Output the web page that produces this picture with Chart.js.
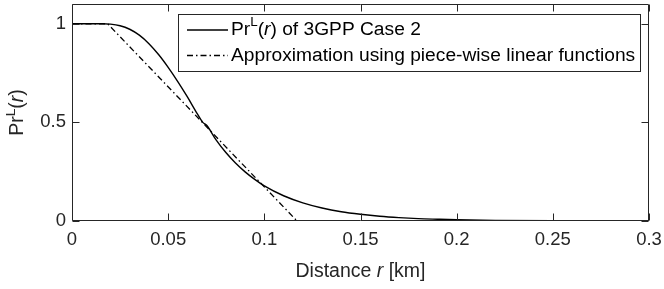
<!DOCTYPE html>
<html>
<head>
<meta charset="utf-8">
<script src="https://cdn.jsdelivr.net/npm/chart.js@4/dist/chart.umd.min.js"></script>
<style>
  html, body { margin: 0; padding: 0; background: #fff; }
  #wrap { width: 664px; height: 289px; position: relative; }
</style>
</head>
<body>
<div id="wrap"><canvas id="c" width="664" height="289"></canvas></div>
<script>
// ---- data ----
const distR = [0, 0.01, 0.015, 0.02, 0.025, 0.03, 0.035, 0.04, 0.045, 0.05, 0.055, 0.06, 0.065, 0.068,
               0.07, 0.075, 0.08, 0.085, 0.09, 0.095, 0.1, 0.11, 0.12, 0.13, 0.14, 0.15, 0.16, 0.17,
               0.18, 0.19, 0.2, 0.22, 0.25, 0.28, 0.3];
const prLos = [1, 1, 0.9998, 0.998, 0.990, 0.972, 0.942, 0.899, 0.844, 0.779, 0.707, 0.629, 0.546, 0.5,
               0.485, 0.410, 0.347, 0.294, 0.249, 0.211, 0.178, 0.128, 0.092, 0.066, 0.047, 0.034, 0.024, 0.017,
               0.012, 0.009, 0.0064, 0.0033, 0.0012, 0.0004, 0.0002];
const approxR = [0, 0.0185, 0.117, 0.3];
const approxPr = [1, 1, 0, 0];
const xTicks = [0, 0.05, 0.1, 0.15, 0.2, 0.25, 0.3];
const xTickLabels = ['0', '0.05', '0.1', '0.15', '0.2', '0.25', '0.3'];
const yTicks = [0, 0.5, 1];
const yTickLabels = ['0', '0.5', '1'];
const seriesNames = ['Pr^L(r) of 3GPP Case 2', 'Approximation using piece-wise linear functions'];

const FONT = '"Liberation Sans", Arial, Helvetica, sans-serif';
const AX = '#262626';
const TICKLEN = 7;

function drawRich(ctx, x, y, segs, size, align) {
  const widths = segs.map(s => {
    const fs = s.sup ? size * 0.7 : size;
    ctx.font = (s.it ? 'italic ' : '') + fs + 'px ' + FONT;
    return ctx.measureText(s.t).width;
  });
  const total = widths.reduce((a, b) => a + b, 0);
  let cx = align === 'center' ? x - total / 2 : x;
  segs.forEach((s, i) => {
    const fs = s.sup ? size * 0.7 : size;
    ctx.font = (s.it ? 'italic ' : '') + fs + 'px ' + FONT;
    ctx.fillText(s.t, cx, s.sup ? y - size * 0.42 : y);
    cx += widths[i];
  });
}

const decor = {
  id: 'decor',
  afterDatasetsDraw(chart) {
    const ctx = chart.ctx;
    const a = chart.chartArea;
    const xs = chart.scales.x, ys = chart.scales.y;
    ctx.save();
    ctx.strokeStyle = AX;
    ctx.lineWidth = 1;
    const L = Math.round(a.left) + 0.5, R = Math.round(a.right) - 0.5;
    const T = Math.round(a.top) + 0.5, B = Math.round(a.bottom) - 0.5;
    ctx.beginPath();
    ctx.rect(L, T, R - L, B - T);
    xTicks.forEach(v => {
      const px = Math.round(xs.getPixelForValue(v)) + 0.5;
      ctx.moveTo(px, B); ctx.lineTo(px, B - TICKLEN);
      ctx.moveTo(px, T); ctx.lineTo(px, T + TICKLEN);
    });
    yTicks.forEach(v => {
      const py = Math.round(ys.getPixelForValue(v)) + 0.5;
      ctx.moveTo(L, py); ctx.lineTo(L + TICKLEN, py);
      ctx.moveTo(R, py); ctx.lineTo(R - TICKLEN, py);
    });
    ctx.stroke();

    // legend
    const lx = 178.5, ly = 14.5, lw = 462, lh = 57;
    ctx.fillStyle = '#fff';
    ctx.fillRect(lx, ly, lw, lh);
    ctx.strokeStyle = AX;
    ctx.strokeRect(lx, ly, lw, lh);
    const rows = [30, 55.5];
    chart.data.datasets.forEach((ds, i) => {
      ctx.save();
      ctx.strokeStyle = ds.borderColor;
      ctx.lineWidth = ds.borderWidth;
      ctx.setLineDash(ds.borderDash || []);
      ctx.beginPath();
      ctx.moveTo(187, rows[i]); ctx.lineTo(228, rows[i]);
      ctx.stroke();
      ctx.restore();
    });
    ctx.fillStyle = '#000';
    ctx.textBaseline = 'middle';
    ctx.textAlign = 'left';
    drawRich(ctx, 231, rows[0], [{t: 'Pr'}, {t: 'L', sup: true}, {t: '('}, {t: 'r', it: true}, {t: ') of 3GPP Case 2'}], 19.2);
    drawRich(ctx, 231, rows[1], [{t: seriesNames[1]}], 19.2);

    // axis titles
    ctx.fillStyle = AX;
    ctx.textBaseline = 'alphabetic';
    drawRich(ctx, (a.left + a.right) / 2, 277, [{t: 'Distance '}, {t: 'r', it: true}, {t: ' [km]'}], 19.5, 'center');
    ctx.save();
    ctx.translate(23, (a.top + a.bottom) / 2);
    ctx.rotate(-Math.PI / 2);
    drawRich(ctx, 0, 0, [{t: 'Pr'}, {t: 'L', sup: true}, {t: '('}, {t: 'r', it: true}, {t: ')'}], 19.5, 'center');
    ctx.restore();
    ctx.restore();
  }
};

function zeroPad(s) { s.paddingTop = 0; s.paddingBottom = 0; s.paddingLeft = 0; s.paddingRight = 0; }

new Chart(document.getElementById('c'), {
  type: 'line',
  data: {
    datasets: [
      {
        label: seriesNames[0],
        data: distR.map((r, i) => ({x: r, y: prLos[i]})),
        borderColor: '#000',
        borderWidth: 1.4,
        pointRadius: 0,
        cubicInterpolationMode: 'monotone',
        fill: false
      },
      {
        label: seriesNames[1],
        data: approxR.map((r, i) => ({x: r, y: approxPr[i]})),
        borderColor: '#000',
        borderWidth: 1.3,
        borderDash: [6, 3, 1.5, 3],
        pointRadius: 0,
        tension: 0,
        fill: false
      }
    ]
  },
  options: {
    responsive: false,
    animation: false,
    events: [],
    layout: { padding: { left: 0, right: 15, top: 4, bottom: 0 } },
    plugins: { legend: { display: false }, tooltip: { enabled: false } },
    scales: {
      x: {
        type: 'linear',
        min: 0, max: 0.3,
        afterBuildTicks: s => { s.ticks = xTicks.map(v => ({value: v})); },
        afterFit: s => { s.height = 68; zeroPad(s); },
        grid: { display: false, drawTicks: false },
        border: { display: false },
        ticks: {
          padding: 8,
          color: AX,
          font: { family: FONT, size: 18.5 },
          maxRotation: 0,
          autoSkip: false,
          callback: (v, i) => xTickLabels[i]
        }
      },
      y: {
        type: 'linear',
        min: 0, max: 1.1,
        afterBuildTicks: s => { s.ticks = yTicks.map(v => ({value: v})); },
        afterFit: s => { s.width = 72; zeroPad(s); },
        grid: { display: false, drawTicks: false },
        border: { display: false },
        ticks: {
          padding: 6,
          color: AX,
          font: { family: FONT, size: 18.5 },
          autoSkip: false,
          callback: (v, i) => yTickLabels[i]
        }
      }
    }
  },
  plugins: [decor]
});
</script>
</body>
</html>
